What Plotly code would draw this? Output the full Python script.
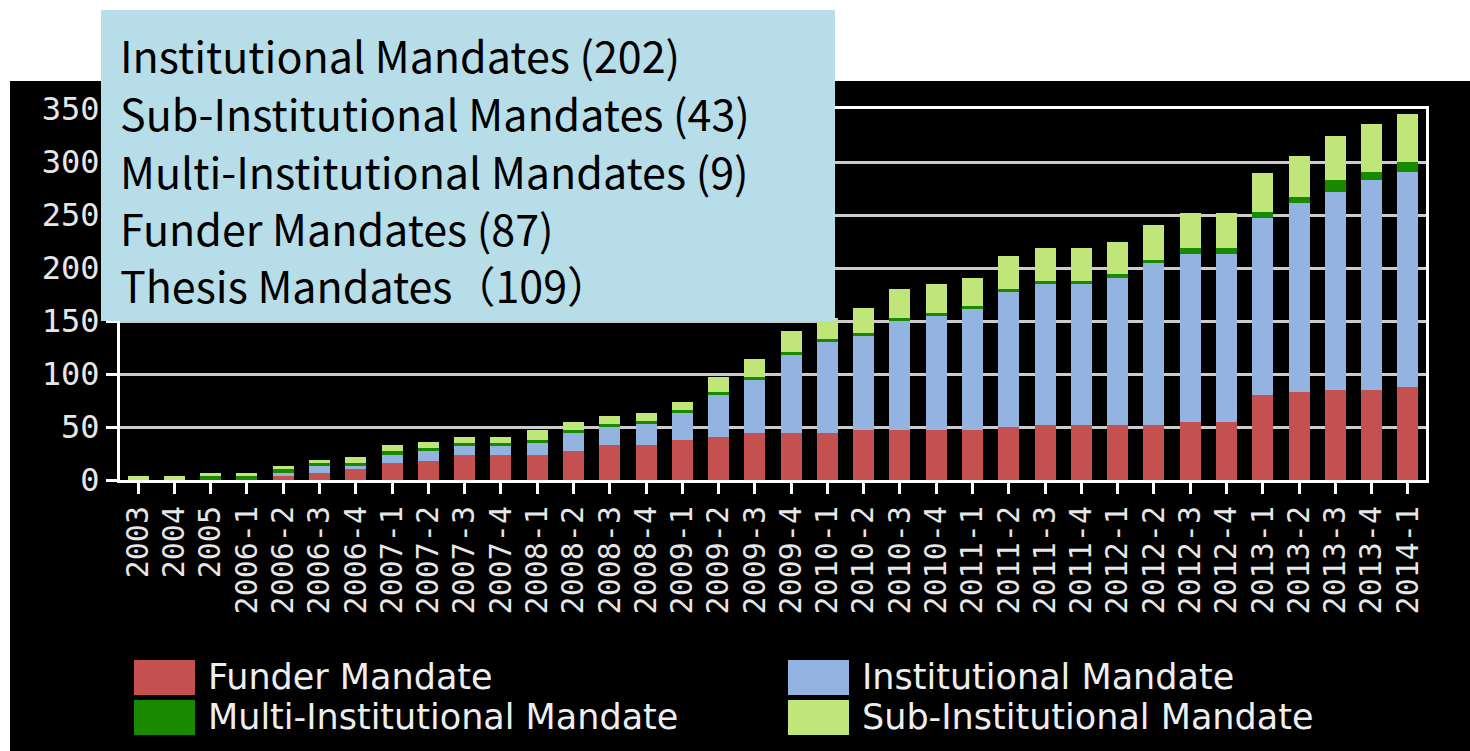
import plotly.graph_objects as go

categories = ["2003", "2004", "2005", "2006-1", "2006-2", "2006-3", "2006-4",
              "2007-1", "2007-2", "2007-3", "2007-4", "2008-1", "2008-2", "2008-3",
              "2008-4", "2009-1", "2009-2", "2009-3", "2009-4", "2010-1", "2010-2",
              "2010-3", "2010-4", "2011-1", "2011-2", "2011-3", "2011-4", "2012-1",
              "2012-2", "2012-3", "2012-4", "2013-1", "2013-2", "2013-3", "2013-4",
              "2014-1"]

funder = [0, 0, 0, 0, 4, 7, 10, 16, 18, 24, 24, 24, 27, 33, 33, 38, 41, 44, 44, 44,
          47, 47, 47, 47, 50, 52, 52, 52, 52, 55, 55, 80, 83, 85, 85, 88]
institutional = [0, 0, 0, 0, 3, 6, 3, 8, 9, 8, 8, 11, 17, 17, 20, 25, 39, 50, 74, 86,
                 89, 103, 108, 114, 127, 133, 133, 139, 153, 158, 158, 167, 178, 187, 198, 203]
multi = [0, 0, 4, 4, 3, 3, 3, 3, 3, 3, 3, 3, 3, 3, 3, 3, 3, 3, 3, 3,
         3, 3, 3, 3, 3, 3, 3, 3, 3, 6, 6, 6, 6, 11, 8, 9]
sub = [4, 4, 3, 3, 3, 3, 6, 6, 6, 6, 6, 9, 8, 7, 7, 8, 14, 17, 20, 20,
       23, 27, 27, 27, 31, 31, 31, 31, 33, 33, 33, 37, 39, 42, 45, 45]

series_names = ["Funder Mandate", "Institutional Mandate",
                "Multi-Institutional Mandate", "Sub-Institutional Mandate"]
series_colors = ["#c4504f", "#93b4e0", "#178a00", "#c0e67a"]

box_labels = ["Institutional Mandates (202)",
              "Sub-Institutional Mandates (43)",
              "Multi-Institutional Mandates (9)",
              "Funder Mandates (87)",
              "Thesis Mandates\uff08109\uff09"]

y_ticks = [0, 50, 100, 150, 200, 250, 300, 350]

W, H = 1470, 751
L, R, T, B = 120, 44, 109, 271
PW = W - L - R
PH = H - T - B


def px2x(px):
    return (px - L) / PW


def px2y(py):
    return (H - B - py) / PH


fig = go.Figure()
for name, vals, col in zip(series_names, [funder, institutional, multi, sub], series_colors):
    fig.add_trace(go.Bar(x=categories, y=vals, name=name, marker_color=col,
                         marker_line_width=0, showlegend=False))

shapes = []
# black background panel
shapes.append(dict(type="rect", xref="paper", yref="paper", layer="below",
                   x0=px2x(10), x1=px2x(1470), y0=px2y(751), y1=px2y(81),
                   fillcolor="black", line_width=0))
# info box
shapes.append(dict(type="rect", xref="paper", yref="paper", layer="above",
                   x0=px2x(101), x1=px2x(835), y0=px2y(321), y1=px2y(10),
                   fillcolor="#b7dde8", line_width=0))

annotations = []
line_y = [54, 112, 170, 227, 284]
for txt, yy in zip(box_labels, line_y):
    annotations.append(dict(text=txt, xref="paper", yref="paper", x=px2x(118), y=px2y(yy),
                            xanchor="left", yanchor="middle", showarrow=False,
                            font=dict(family="Noto Sans CJK JP", size=43, color="black")))

# custom legend
leg_pos = [(134, 660), (788, 660), (134, 700), (788, 700)]
for (lx, ly), name, col in zip(leg_pos, series_names, series_colors):
    shapes.append(dict(type="rect", xref="paper", yref="paper", layer="above",
                       x0=px2x(lx), x1=px2x(lx + 61), y0=px2y(ly + 35), y1=px2y(ly),
                       fillcolor=col, line_width=0))
    annotations.append(dict(text=name, xref="paper", yref="paper", x=px2x(lx + 72),
                            y=px2y(ly + 17), xanchor="left", yanchor="middle", showarrow=False,
                            font=dict(family="DejaVu Sans", size=35, color="#eeeeee")))

fig.update_layout(
    width=W, height=H,
    margin=dict(l=L, r=R, t=T, b=B, pad=0),
    paper_bgcolor="white", plot_bgcolor="black",
    barmode="stack", bargap=0.42,
    shapes=shapes, annotations=annotations,
    showlegend=False,
)
fig.update_xaxes(type="category", tickangle=-90, ticks="outside", ticklen=11, tickwidth=3,
                 tickcolor="white", showline=True, linecolor="white", linewidth=3, mirror=True,
                 showgrid=False,
                 tickfont=dict(family="DejaVu Sans Mono", size=30, color="#e6e6e6"))
fig.update_yaxes(range=[0, 350], tickvals=y_ticks, ticks="outside", ticklen=11, tickwidth=3,
                 tickcolor="white", showline=True, linecolor="white", linewidth=3, mirror=True,
                 showgrid=True, gridcolor="#cccccc", gridwidth=3, zeroline=False,
                 tickfont=dict(family="DejaVu Sans Mono", size=32, color="#e6e6e6"))

fig.write_html("out.html", config={"displayModeBar": False},
               post_script="document.body.style.margin='0';document.body.style.overflow='hidden';")
